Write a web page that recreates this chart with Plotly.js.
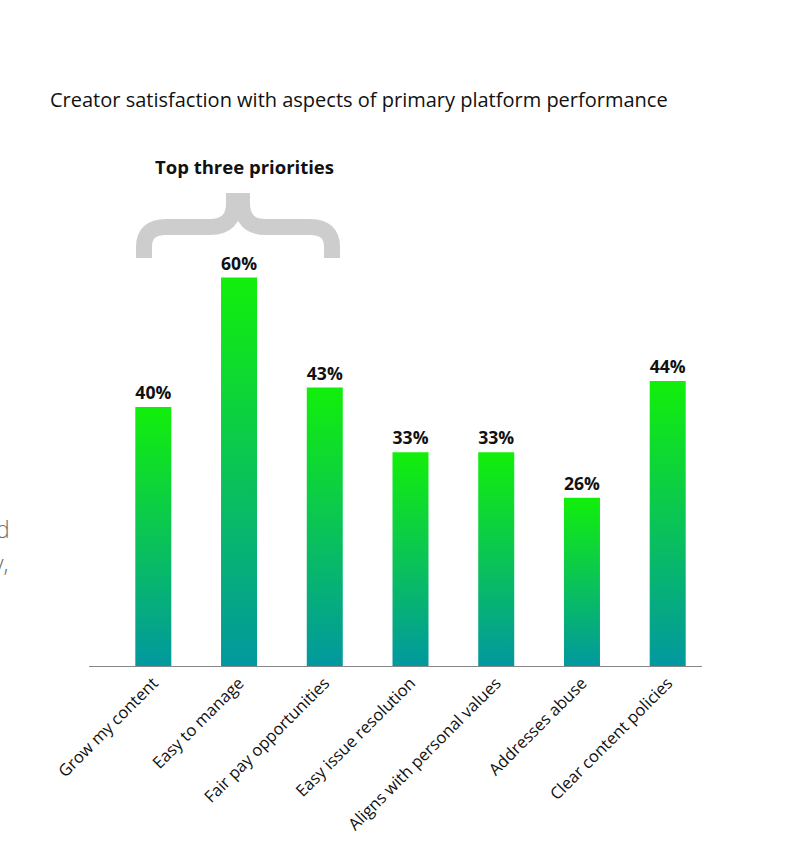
<!DOCTYPE html>
<html>
<head>
<meta charset="utf-8">
<script src="https://cdn.plot.ly/plotly-3.0.1.min.js"></script>
<style>html,body{margin:0;padding:0;background:#fff;}#chart{width:797px;height:859px;}</style>
</head>
<body>
<div id="chart"></div>
<script>
const categories = ["Grow my content", "Easy to manage", "Fair pay opportunities", "Easy issue resolution", "Aligns with personal values", "Addresses abuse", "Clear content policies"];
const values = [40, 60, 43, 33, 33, 26, 44];
const valueLabels = ["40%", "60%", "43%", "33%", "33%", "26%", "44%"];
const chartTitle = "Creator satisfaction with aspects of primary platform performance";
const bracketLabel = "Top three priorities";

const W = 797, H = 859;
const M = {l: 89, r: 95, t: 148, b: 193};
const PW = W - M.l - M.r, PH = H - M.t - M.b;
// pixel -> paper helpers for decorations
const px = v => (v - M.l) / PW;
const py = v => (H - M.b - v) / PH;

function bracePath() {
  const L = `M ${px(144)},${py(258)} L ${px(144)},${py(247)} Q ${px(144)},${py(227)} ${px(166)},${py(227)} L ${px(210)},${py(227)} Q ${px(234)},${py(227)} ${px(234)},${py(203)} L ${px(234)},${py(193)}`;
  const R = `M ${px(332)},${py(258)} L ${px(332)},${py(247)} Q ${px(332)},${py(227)} ${px(310)},${py(227)} L ${px(266)},${py(227)} Q ${px(242)},${py(227)} ${px(242)},${py(203)} L ${px(242)},${py(193)}`;
  return [L, R];
}

const trace = {
  type: "bar",
  x: categories.map((c, i) => i),
  y: values,
  text: valueLabels,
  texttemplate: "%{text}",
  textposition: "outside",
  cliponaxis: false,
  textfont: {family: "Open Sans", size: 18, color: "#111", weight: "bold"},
  width: 0.42,
  marker: {color: "#0ac355", line: {width: 0}},
  hoverinfo: "skip"
};

const braces = bracePath().map(p => ({
  type: "path", xref: "paper", yref: "paper", path: p,
  line: {color: "#cdcdcd", width: 16}, layer: "above"
}));

const layout = {
  width: W, height: H,
  margin: M,
  paper_bgcolor: "#fff", plot_bgcolor: "#fff",
  showlegend: false,
  font: {family: "Open Sans", color: "#111"},
  title: {
    text: chartTitle, xref: "container", yref: "container",
    x: 50 / W, xanchor: "left", y: 1 - 100 / H, yanchor: "middle",
    font: {family: "Open Sans", size: 20, color: "#111"}
  },
  xaxis: {
    range: [-0.75, 6.4],
    tickmode: "array", tickvals: categories.map((c, i) => i), ticktext: categories,
    tickangle: -45, ticks: "", showgrid: false, zeroline: false,
    showline: true, linecolor: "#888", linewidth: 1,
    tickfont: {family: "Open Sans", size: 16.5, color: "#111"},
    fixedrange: true
  },
  yaxis: {
    range: [0, 80], visible: false, showgrid: false, zeroline: false, fixedrange: true
  },
  shapes: braces,
  annotations: [
    {text: bracketLabel, xref: "paper", yref: "paper", x: px(244), y: py(166),
     xanchor: "center", yanchor: "middle", showarrow: false,
     font: {family: "Open Sans", size: 18.5, color: "#111", weight: "bold"}},
    {text: "d", xref: "paper", yref: "paper", x: px(12), y: py(529),
     xanchor: "right", yanchor: "middle", showarrow: false,
     font: {family: "Open Sans", size: 23, color: "#6f6f6f", weight: 300}},
    {text: "y,", xref: "paper", yref: "paper", x: px(11), y: py(563),
     xanchor: "right", yanchor: "middle", showarrow: false,
     font: {family: "Open Sans", size: 23, color: "#6f6f6f", weight: 300}}
  ]
};

Plotly.newPlot("chart", [trace], layout, {displayModeBar: false, staticPlot: true}).then(gd => {
  const svg = gd.querySelector("svg.main-svg");
  const NS = "http://www.w3.org/2000/svg";
  let defs = svg.querySelector("defs");
  if (!defs) { defs = document.createElementNS(NS, "defs"); svg.insertBefore(defs, svg.firstChild); }
  const g = document.createElementNS(NS, "linearGradient");
  g.setAttribute("id", "barGrad");
  g.setAttribute("x1", "0"); g.setAttribute("y1", "0");
  g.setAttribute("x2", "0"); g.setAttribute("y2", "1");
  [["0", "#12ef0a"], ["0.5", "#0ac456"], ["1", "#02989f"]].forEach(([o, c]) => {
    const s = document.createElementNS(NS, "stop");
    s.setAttribute("offset", o); s.setAttribute("stop-color", c);
    g.appendChild(s);
  });
  defs.appendChild(g);
  gd.querySelectorAll(".barlayer .point path").forEach(p => {
    p.style.fill = "url(#barGrad)";
  });
});
</script>
</body>
</html>
